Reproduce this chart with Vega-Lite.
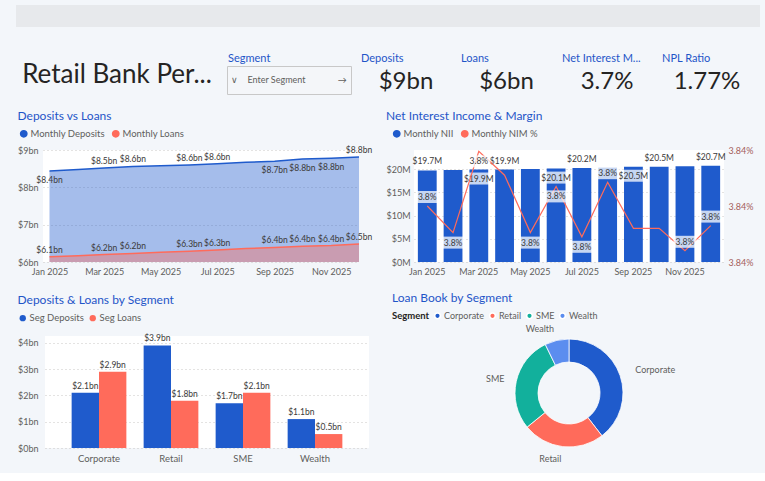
{
  "$schema": "https://vega.github.io/schema/vega-lite/v6.json",
  "background": "#F3F6FA",
  "padding": {"left": 16, "top": 5, "right": 5, "bottom": 5},
  "datasets": {
    "monthly": [
      {"month": "2025/01/01", "Monthly Deposits": 8.44, "Monthly Loans": 6.14},
      {"month": "2025/02/01", "Monthly Deposits": 8.48, "Monthly Loans": 6.17},
      {"month": "2025/03/01", "Monthly Deposits": 8.52, "Monthly Loans": 6.2},
      {"month": "2025/04/01", "Monthly Deposits": 8.56, "Monthly Loans": 6.23},
      {"month": "2025/05/01", "Monthly Deposits": 8.58, "Monthly Loans": 6.26},
      {"month": "2025/06/01", "Monthly Deposits": 8.6, "Monthly Loans": 6.29},
      {"month": "2025/07/01", "Monthly Deposits": 8.63, "Monthly Loans": 6.32},
      {"month": "2025/08/01", "Monthly Deposits": 8.67, "Monthly Loans": 6.36},
      {"month": "2025/09/01", "Monthly Deposits": 8.7, "Monthly Loans": 6.39},
      {"month": "2025/10/01", "Monthly Deposits": 8.76, "Monthly Loans": 6.42},
      {"month": "2025/11/01", "Monthly Deposits": 8.78, "Monthly Loans": 6.44},
      {"month": "2025/12/01", "Monthly Deposits": 8.81, "Monthly Loans": 6.48}
    ],
    "nii": [
      {"month": "2025/01/01", "nii": 19.7, "nim": 3.84},
      {"month": "2025/02/01", "nii": 19.8, "nim": 3.8381},
      {"month": "2025/03/01", "nii": 19.9, "nim": 3.8439},
      {"month": "2025/04/01", "nii": 19.9, "nim": 3.8422},
      {"month": "2025/05/01", "nii": 20.0, "nim": 3.8381},
      {"month": "2025/06/01", "nii": 20.1, "nim": 3.8414},
      {"month": "2025/07/01", "nii": 20.2, "nim": 3.8378},
      {"month": "2025/08/01", "nii": 20.3, "nim": 3.8417},
      {"month": "2025/09/01", "nii": 20.5, "nim": 3.8384},
      {"month": "2025/10/01", "nii": 20.5, "nim": 3.8384},
      {"month": "2025/11/01", "nii": 20.6, "nim": 3.8368},
      {"month": "2025/12/01", "nii": 20.7, "nim": 3.8386}
    ],
    "seg": [
      {"segment": "Corporate", "Seg Deposits": 2.1, "Seg Loans": 2.9},
      {"segment": "Retail", "Seg Deposits": 3.9, "Seg Loans": 1.8},
      {"segment": "SME", "Seg Deposits": 1.7, "Seg Loans": 2.1},
      {"segment": "Wealth", "Seg Deposits": 1.1, "Seg Loans": 0.53}
    ],
    "kpi": [
      {"label": "Deposits", "value": "$9bn"},
      {"label": "Loans", "value": "$6bn"},
      {"label": "Net Interest M...", "value": "3.7%"},
      {"label": "NPL Ratio", "value": "1.77%"}
    ],
    "empty": []
  },
  "config": {
    "font": "Lato",
    "view": {"fill": "#FFFFFF", "stroke": null},
    "axis": {"labelColor": "#605E5C", "labelFontSize": 9, "domain": false, "ticks": false, "title": null, "gridColor": "#C8C6C4", "gridDash": [1, 3], "labelPadding": 4},
    "axisX": {"grid": false},
    "title": {"anchor": "start", "color": "#1F55C8", "fontSize": 12, "fontWeight": "normal", "frame": "bounds", "offset": 6, "font": "Lato"},
    "legend": {"orient": "none", "direction": "horizontal", "symbolType": "circle", "symbolSize": 40, "labelFontSize": 9.5, "labelColor": "#605E5C", "columnPadding": 4, "padding": 0, "labelOffset": 2, "labelFont": "Lato"},
    "text": {"font": "Lato"}
  },
  "resolve": {"scale": {"color": "independent"}, "legend": {"color": "independent"}},
  "spacing": 25,
  "vconcat": [
    {"width": 744, "height": 22, "view": {"fill": "#E7E9EC"}, "data": {"name": "empty"}, "mark": "point", "encoding": {}},
    {
      "spacing": 12,
      "resolve": {"scale": {"color": "independent"}, "legend": {"color": "independent"}},
      "vconcat": [
        {
          "hconcat": [
            {
              "width": 202, "height": 32,
              "data": {"values": [{"t": "Retail Bank Per..."}]},
              "mark": {"type": "text", "fontSize": 26, "color": "#252423", "dy": -7},
              "encoding": {"text": {"field": "t"}}
            },
            {
              "title": {"text": "Segment", "fontSize": 11, "offset": 2, "frame": "group", "dx": 1},
              "width": 124, "height": 28,
              "view": {"fill": "#F4F6F9", "stroke": "#C8C8C8"},
              "data": {"values": [{"t": "\u2228\u00a0\u00a0\u00a0\u00a0Enter Segment\u00a0\u00a0\u00a0\u00a0\u00a0\u00a0\u00a0\u00a0\u00a0\u00a0\u00a0\u00a0\u00a0\u00a0\u2192"}]},
              "mark": {"type": "text", "fontSize": 9, "color": "#605E5C"},
              "encoding": {"text": {"field": "t"}}
            },
            {
              "title": {"text": "Deposits", "fontSize": 11, "offset": 2, "frame": "group", "dx": 1},
              "width": 92, "height": 32,
              "data": {"name": "kpi"},
              "transform": [{"filter": "datum.label == 'Deposits'"}],
              "mark": {"type": "text", "fontSize": 24, "color": "#252423"},
              "encoding": {"text": {"field": "value"}}
            },
            {
              "title": {"text": "Loans", "fontSize": 11, "offset": 2, "frame": "group", "dx": 1},
              "width": 93, "height": 32,
              "data": {"name": "kpi"},
              "transform": [{"filter": "datum.label == 'Loans'"}],
              "mark": {"type": "text", "fontSize": 24, "color": "#252423"},
              "encoding": {"text": {"field": "value"}}
            },
            {
              "title": {"text": "Net Interest M...", "fontSize": 11, "offset": 2, "frame": "group", "dx": 1},
              "width": 92, "height": 32,
              "data": {"name": "kpi"},
              "transform": [{"filter": "datum.label == 'Net Interest M...'"}],
              "mark": {"type": "text", "fontSize": 24, "color": "#252423"},
              "encoding": {"text": {"field": "value"}}
            },
            {
              "title": {"text": "NPL Ratio", "fontSize": 11, "offset": 2, "frame": "group", "dx": 1},
              "width": 92, "height": 32,
              "data": {"name": "kpi"},
              "transform": [{"filter": "datum.label == 'NPL Ratio'"}],
              "mark": {"type": "text", "fontSize": 24, "color": "#252423"},
              "encoding": {"text": {"field": "value"}}
            }
          ],
          "spacing": 8
        },
        {
          "spacing": 16,
          "resolve": {"scale": {"color": "independent"}, "legend": {"color": "independent"}},
          "vconcat": [
            {
              "spacing": 0,
              "resolve": {"scale": {"color": "independent"}, "legend": {"color": "independent"}},
              "hconcat": [
                {"width": 1, "height": 1, "view": {"fill": null}, "data": {"name": "empty"}, "mark": "point", "encoding": {}},
                {
                  "title": {"text": "Deposits vs Loans"},
                  "width": 316, "height": 112,
                  "data": {"name": "monthly"},
                  "transform": [{"fold": ["Monthly Deposits", "Monthly Loans"], "as": ["series", "value"]}],
                  "encoding": {
                    "x": {"field": "month", "type": "temporal",
                      "scale": {"domain": [{"year": 2024, "month": 12, "date": 25}, {"year": 2025, "month": 12, "date": 1}]},
                      "axis": {"format": "%b %Y", "tickCount": {"interval": "month", "step": 2}, "labelFlush": false, "labelBound": false, "labelPadding": 5, "labelFontSize": 9}},
                    "y": {"field": "value", "type": "quantitative", "stack": null,
                      "scale": {"domain": [6, 9], "zero": false},
                      "axis": {"values": [6, 7, 8, 9], "labelExpr": "'$' + datum.value + 'bn'", "labelPadding": 5}}
                  },
                  "layer": [
                    {
                      "mark": {"type": "area", "opacity": 0.4, "clip": true},
                      "encoding": {"color": {"field": "series", "type": "nominal",
                        "scale": {"domain": ["Monthly Deposits", "Monthly Loans"], "range": ["#1F5BCC", "#FF6B5B"]},
                        "legend": {"title": null, "symbolOpacity": 1, "legendX": -24, "legendY": -21}}}
                    },
                    {
                      "mark": {"type": "line", "strokeWidth": 1.5},
                      "encoding": {"color": {"field": "series", "type": "nominal", "legend": null}}
                    },
                    {
                      "transform": [{"filter": "(datum.series == 'Monthly Deposits' && indexof([2, 3, 5, 6, 11], month(datum.month)) >= 0) || (datum.series == 'Monthly Loans' && indexof([1, 4, 7], month(datum.month)) < 0)"}],
                      "mark": {"type": "text", "dy": -7, "fontSize": 8.5, "color": "#3B3A39", "text": {"expr": "'$' + format(datum.value, '.1f') + 'bn'"}}
                    },
                    {
                      "transform": [{"filter": "datum.series == 'Monthly Deposits' && indexof([0, 8, 9, 10], month(datum.month)) >= 0"}],
                      "mark": {"type": "text", "dy": 9, "fontSize": 8.5, "color": "#3B3A39", "text": {"expr": "'$' + format(datum.value, '.1f') + 'bn'"}}
                    }
                  ]
                },
                {"width": 12, "height": 1, "view": {"fill": null}, "data": {"name": "empty"}, "mark": "point", "encoding": {}},
                {
                  "title": {"text": "Net Interest Income & Margin"},
                  "width": 310, "height": 112,
                  "data": {"name": "nii"},
                  "encoding": {
                    "x": {"field": "month", "timeUnit": "yearmonth", "type": "ordinal",
                      "scale": {"paddingInner": 0.27, "paddingOuter": 0.15},
                      "axis": {"labelExpr": "month(datum.value) % 2 == 0 ? timeFormat(datum.value, '%b %Y') : ''", "labelAngle": 0, "labelPadding": 5}}
                  },
                  "layer": [
                    {
                      "encoding": {
                        "y": {"field": "nii", "type": "quantitative", "scale": {"domain": [0, 24.1]},
                          "axis": {"values": [0, 5, 10, 15, 20], "labelExpr": "'$' + datum.value + 'M'", "labelPadding": 4}}
                      },
                      "layer": [
                        {
                          "mark": {"type": "bar"},
                          "encoding": {"color": {"datum": "Monthly NII", "type": "nominal",
                            "scale": {"domain": ["Monthly NII", "Monthly NIM %"], "range": ["#1F5BCC", "#FF6B5B"]},
                            "legend": {"title": null, "legendX": -22, "legendY": -21}}}
                        },
                        {
                          "transform": [{"filter": "indexof([0, 3, 6, 9, 11], month(datum.month)) >= 0"}],
                          "mark": {"type": "text", "dy": -9, "fontSize": 8.5, "color": "#3B3A39", "text": {"expr": "'$' + format(datum.nii, '.1f') + 'M'"}}
                        },
                        {
                          "transform": [{"filter": "indexof([2, 5, 8], month(datum.month)) >= 0"}],
                          "mark": {"type": "point", "shape": "M-1.55,0.3H1.55V1.5H-1.55Z", "size": 400, "filled": true, "fill": "#FFFFFF", "fillOpacity": 0.75, "strokeWidth": 0}
                        },
                        {
                          "transform": [{"filter": "indexof([2, 5, 8], month(datum.month)) >= 0"}],
                          "mark": {"type": "text", "dy": 9, "fontSize": 8.5, "color": "#3B3A39", "text": {"expr": "'$' + format(datum.nii, '.1f') + 'M'"}}
                        }
                      ]
                    },
                    {
                      "encoding": {
                        "y": {"field": "nim", "type": "quantitative", "scale": {"domain": [3.836, 3.844], "zero": false},
                          "axis": {"orient": "right", "values": [3.836, 3.84, 3.844], "labelExpr": "format(datum.value, '.2f') + '%'", "grid": false, "labelColor": "#A4605A", "labelPadding": 4}}
                      },
                      "layer": [
                        {
                          "mark": {"type": "line", "strokeWidth": 1.2},
                          "encoding": {"color": {"datum": "Monthly NIM %", "type": "nominal"}}
                        },
                        {
                          "transform": [{"filter": "indexof([0, 7, 10, 11], month(datum.month)) >= 0"}],
                          "mark": {"type": "point", "shape": "M-1.15,-1.5H1.15V-0.3H-1.15Z", "size": 400, "filled": true, "fill": "#FFFFFF", "fillOpacity": 0.75, "strokeWidth": 0}
                        },
                        {
                          "transform": [{"filter": "indexof([0, 7, 10, 11], month(datum.month)) >= 0"}],
                          "mark": {"type": "text", "dy": -9, "fontSize": 8.5, "color": "#3B3A39", "text": "3.8%"}
                        },
                        {
                          "transform": [{"filter": "indexof([1, 2, 4, 5, 6], month(datum.month)) >= 0"}],
                          "mark": {"type": "point", "shape": "M-1.15,0.4H1.15V1.6H-1.15Z", "size": 400, "filled": true, "fill": "#FFFFFF", "fillOpacity": 0.75, "strokeWidth": 0}
                        },
                        {
                          "transform": [{"filter": "indexof([1, 2, 4, 5, 6], month(datum.month)) >= 0"}],
                          "mark": {"type": "text", "dy": 10, "fontSize": 8.5, "color": "#3B3A39", "text": "3.8%"}
                        }
                      ]
                    }
                  ],
                  "resolve": {"scale": {"y": "independent"}}
                }
              ]
            },
            {
              "spacing": 0,
              "resolve": {"scale": {"color": "independent"}, "legend": {"color": "independent"}},
              "hconcat": [
                {"width": 1, "height": 1, "view": {"fill": null}, "data": {"name": "empty"}, "mark": "point", "encoding": {}},
                {
                  "title": {"text": "Deposits & Loans by Segment"},
                  "width": 324, "height": 112,
                  "data": {"name": "seg"},
                  "transform": [{"fold": ["Seg Deposits", "Seg Loans"], "as": ["series", "value"]}],
                  "encoding": {
                    "x": {"field": "segment", "type": "nominal", "scale": {"paddingInner": 0.24, "paddingOuter": 0.37},
                      "axis": {"labelAngle": 0, "labelFontSize": 9.5, "labelPadding": 5}},
                    "xOffset": {"field": "series", "type": "nominal", "sort": ["Seg Deposits", "Seg Loans"]},
                    "y": {"field": "value", "type": "quantitative", "scale": {"domain": [0, 4.26]},
                      "axis": {"values": [0, 1, 2, 3, 4], "labelExpr": "'$' + datum.value + 'bn'", "labelPadding": 7}}
                  },
                  "layer": [
                    {
                      "mark": {"type": "bar"},
                      "encoding": {"color": {"field": "series", "type": "nominal",
                        "scale": {"domain": ["Seg Deposits", "Seg Loans"], "range": ["#1F5BCC", "#FF6B5B"]},
                        "legend": {"title": null, "legendX": -27, "legendY": -23}}}
                    },
                    {
                      "mark": {"type": "text", "dy": -7, "fontSize": 8.5, "color": "#3B3A39", "text": {"expr": "'$' + format(datum.value, '.1f') + 'bn'"}}
                    }
                  ]
                },
                {"width": 23, "height": 1, "view": {"fill": null}, "data": {"name": "empty"}, "mark": "point", "encoding": {}},
                {
                  "title": {"text": "Loan Book by Segment"},
                  "width": 340, "height": 114,
                  "data": {"name": "seg"},
                  "encoding": {
                    "theta": {"field": "Seg Loans", "type": "quantitative", "stack": true},
                    "order": {"field": "segment", "type": "ordinal"}
                  },
                  "layer": [
                    {
                      "mark": {"type": "arc", "innerRadius": 31, "outerRadius": 54, "stroke": "#FFFFFF", "strokeWidth": 0.8},
                      "encoding": {"color": {"field": "segment", "type": "nominal",
                        "scale": {"domain": ["Corporate", "Retail", "SME", "Wealth"], "range": ["#1F5BCC", "#FF6B5B", "#12B09C", "#5B8DEF"]},
                        "legend": {"title": "Segment", "titleOrient": "left", "titleFontSize": 9.5, "titleFontWeight": "bold", "titleColor": "#252423", "titlePadding": 3, "titleFont": "Lato", "columnPadding": 1, "labelFontSize": 9, "symbolSize": 32, "legendX": -7, "legendY": -25}}}
                    },
                    {
                      "mark": {"type": "text", "radius": 70, "align": "left", "fontSize": 9, "color": "#605E5C"},
                      "encoding": {"text": {"condition": {"test": "datum.segment == 'Corporate'", "field": "segment"}, "value": ""}}
                    },
                    {
                      "mark": {"type": "text", "radius": 66, "align": "right", "fontSize": 9, "color": "#605E5C"},
                      "encoding": {"text": {"condition": {"test": "datum.segment != 'Corporate'", "field": "segment"}, "value": ""}}
                    }
                  ]
                }
              ]
            }
          ]
        }
      ]
    }
  ]
}
